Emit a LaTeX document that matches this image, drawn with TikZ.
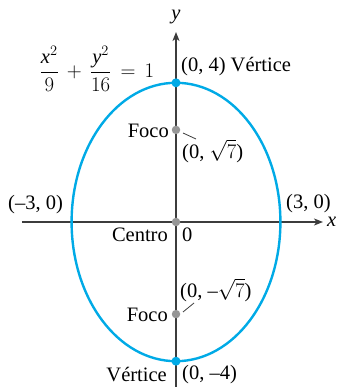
\documentclass[tikz,border=0pt]{standalone}
\usepackage{fontspec}
\setmainfont{Liberation Serif}
\usetikzlibrary{arrows.meta}
\definecolor{ellblue}{RGB}{0,170,230}
\definecolor{focgray}{RGB}{150,150,150}
\definecolor{axgray}{RGB}{60,60,60}
\begin{document}
\begin{tikzpicture}[x=1pt,y=1pt,
  lbl/.style={inner sep=0pt, font=\fontsize{20.5}{24}\selectfont},
  axis/.style={draw=axgray, line width=1.3pt, -{Stealth[length=9pt,width=7pt,inset=2.5pt]}},
  leader/.style={draw=axgray, line width=0.8pt},
  vdot/.style={circle, fill=ellblue, inner sep=0pt, minimum size=9pt},
  fdot/.style={circle, fill=focgray, inner sep=0pt, minimum size=8.5pt}]
\useasboundingbox (-176,-165) rectangle (162,222);
% axes
\coordinate (xs) at (-154,0);
\coordinate (xe) at (147,0);
\coordinate (ys) at (0,-166);
\coordinate (ye) at (0,190);
\draw[axis] (xs) -- (xe);
\draw[axis] (ys) -- (ye);
\node[lbl, font=\fontsize{20.5}{24}\selectfont\itshape, anchor=base west] (xl) at (151,-5) {x};
\node[lbl, font=\fontsize{20.5}{24}\selectfont\itshape] (yl) at (0,205) {y};
% ellipse
\draw[ellblue, line width=2.4pt] (0,0) ellipse [x radius=104.4, y radius=139.2];
% points
\node[fdot] (c) at (0,0) {};
\node[fdot] (f1) at (0,92.1) {};
\node[fdot] (f2) at (0,-92.1) {};
\node[vdot] (v1) at (0,139.2) {};
\node[vdot] (v2) at (0,-139.2) {};
% labels
\node[lbl] (eq) at (-79,153) {$\displaystyle\frac{\mathit{x}^{2}}{9}\,+\,\frac{\mathit{y}^{2}}{16}\,=\,1$};
\node[lbl, anchor=west] (v1l) at (5,155) {(0, 4) Vértice};
\node[lbl, anchor=east] (f1l) at (-7,91) {Foco};
\node[lbl, anchor=west] (f1c) at (6,71) {(0, $\sqrt{7}$)};
\node[lbl, anchor=west] (lx) at (-168,17) {(–3, 0)};
\node[lbl, anchor=west] (rx) at (110,18) {(3, 0)};
\node[lbl, anchor=east] (cl) at (-8,-13) {Centro};
\node[lbl, anchor=west] (zl) at (6,-13) {0};
\node[lbl, anchor=west] (f2c) at (4,-68) {(0, –$\sqrt{7}$)};
\node[lbl, anchor=east] (f2l) at (-8,-93) {Foco};
\node[lbl, anchor=east] (v2l) at (-9,-153) {Vértice};
\node[lbl, anchor=west] (v2c) at (6,-153) {(0, –4)};
% leaders
\coordinate (a1) at (7,89);
\coordinate (b1) at (20,83);
\coordinate (a2) at (7,-90);
\coordinate (b2) at (18,-81);
\draw[leader] (a1) -- (b1);
\draw[leader] (a2) -- (b2);
\end{tikzpicture}
\end{document}
